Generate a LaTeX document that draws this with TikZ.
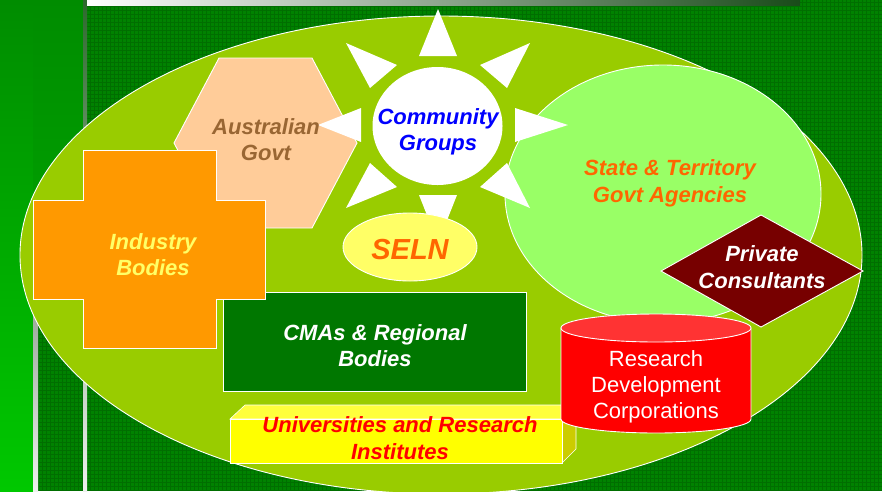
\documentclass[tikz,border=0pt]{standalone}
\usepackage{fontspec}
\setmainfont{Liberation Sans}
\definecolor{bggreen}{RGB}{0,130,0}
\definecolor{gridgreen}{RGB}{0,110,0}
\definecolor{bartop}{RGB}{0,140,0}
\definecolor{barbot}{RGB}{0,200,0}
\definecolor{lime}{RGB}{153,204,0}
\definecolor{paleg}{RGB}{153,255,102}
\definecolor{peach}{RGB}{255,204,153}
\definecolor{browntxt}{RGB}{153,102,51}
\definecolor{orangefill}{RGB}{255,153,0}
\definecolor{paley}{RGB}{255,255,102}
\definecolor{boxgreen}{RGB}{0,119,0}
\definecolor{cubey}{RGB}{255,255,0}
\definecolor{cubetop}{RGB}{255,255,60}
\definecolor{cubeside}{RGB}{204,204,0}
\definecolor{cylred}{RGB}{255,0,0}
\definecolor{cyltop}{RGB}{255,51,51}
\definecolor{maroon}{RGB}{119,0,0}
\definecolor{orangetxt}{RGB}{255,102,0}
\definecolor{bluetxt}{RGB}{0,0,255}
\definecolor{barmid}{RGB}{205,208,205}
\definecolor{barend}{RGB}{25,75,25}
\definecolor{linetop}{RGB}{45,105,45}
\definecolor{linebot}{RGB}{238,240,238}
\definecolor{graymid}{RGB}{150,165,150}
\begin{document}
\begin{tikzpicture}[x=1pt,y=-1pt,
  outl/.style={draw=white,line width=0.9pt},
  lbl/.style={align=center,font=\fontsize{22}{26.5}\selectfont\bfseries\itshape,inner sep=0pt},
  lblr/.style={align=center,font=\fontsize{22}{26}\selectfont,inner sep=0pt},
  gridline/.style={gridgreen,line width=0.8pt},
  ray/.style={fill=white}]
\useasboundingbox (0,0) rectangle (882,491);
% background
\fill[bggreen] (0,0) rectangle (882,491);
\foreach \i in {2,6,...,882} \draw[gridline] (\i,0) -- (\i,491);
\foreach \j in {2,6,...,490} \draw[gridline] (0,\j) -- (882,\j);
\shade[top color=bartop,bottom color=barbot] (0,0) rectangle (33,491);
\shade[top color=bartop,bottom color={rgb,255:red,0;green,165;blue,0}] (33,0) rectangle (83,300);
\shade[top color=graymid,bottom color=linebot] (33,300) rectangle (38,491);
\shade[top color=linetop,bottom color=linebot] (83,0) rectangle (87,491);
\shade[left color=white,middle color=barmid,right color=barend] (87,0) rectangle (800,5);
% big ellipse
\draw[outl,fill=lime] (441,255) ellipse [x radius=421, y radius=239];
% state ellipse
\draw[outl,fill=paleg] (663,194) ellipse [x radius=158, y radius=129];
% hexagon
\draw[outl,fill=peach] (219,58) -- (312,58) -- (357,143) -- (312,228) -- (219,228) -- (174,143) -- cycle;
% CMAs box
\draw[outl,fill=boxgreen] (223,292) rectangle (526,391);
% cross
\draw[outl,fill=orangefill] (83,150) -- (216,150) -- (216,200) -- (265,200) -- (265,299) -- (216,299) -- (216,348) -- (83,348) -- (83,299) -- (33,299) -- (33,200) -- (83,200) -- cycle;
% sun rays
\fill[ray] (438,9) -- (457,56) -- (419,56) -- cycle;
\fill[ray] (438,243) -- (457,195) -- (419,195) -- cycle;
\fill[ray] (568,125) -- (515,108) -- (515,142) -- cycle;
\fill[ray] (318,125) -- (361,108) -- (361,142) -- cycle;
\fill[ray] (346,43) -- (397,65) -- (370,88) -- cycle;
\fill[ray] (530,43) -- (480,65) -- (507,88) -- cycle;
\fill[ray] (346,208) -- (397,187) -- (370,163) -- cycle;
\fill[ray] (530,208) -- (480,187) -- (507,163) -- cycle;
\fill[white] (437.5,126) ellipse [x radius=65, y radius=59];
% SELN ellipse
\draw[outl,fill=paley] (410,247) ellipse [x radius=67, y radius=34];
% diamond
\draw[outl,fill=maroon] (761,215) -- (863,271) -- (761,327) -- (661,271) -- cycle;
% cube
\draw[outl,line width=0.6pt,fill=cubetop] (230,419) -- (245,405) -- (576,405) -- (562,419) -- cycle;
\draw[outl,line width=0.6pt,fill=cubeside] (562,419) -- (576,405) -- (576,449) -- (562,463) -- cycle;
\draw[outl,line width=0.6pt,fill=cubey] (230,419) rectangle (562,463);
% cylinder
\draw[outl,fill=cylred] (561,328) -- (561,419) arc[start angle=180, end angle=0, x radius=95, y radius=14] -- (751,328) -- cycle;
\draw[outl,fill=cyltop] (656,328) ellipse [x radius=95, y radius=14];
% labels
\node[lbl,text=bluetxt] (cg) at (438,132) {Community\\Groups};
\node[lbl,text=browntxt] (ag) at (266,139.5) {Australian\\Govt};
\node[lbl,text=paley] (ib) at (153,254.5) {Industry\\Bodies};
\node[lbl,text=white] (cma) at (375,345.5) {CMAs \& Regional\\Bodies};
\node[lbl,text=cylred] (uni) at (400,438) {Universities and Research\\Institutes};
\node[lblr,text=white] (rdc) at (656,387) {Research\\Development\\Corporations};
\node[lbl,text=orangetxt] (st) at (670,183.5) {State \& Territory\\Govt Agencies};
\node[lbl,text=white] (pc) at (762,267) {Private\\Consultants};
\node[inner sep=0pt,text=orangetxt,font=\fontsize{29}{34}\selectfont\bfseries\itshape] (seln) at (410,250) {SELN};
\end{tikzpicture}
\end{document}
